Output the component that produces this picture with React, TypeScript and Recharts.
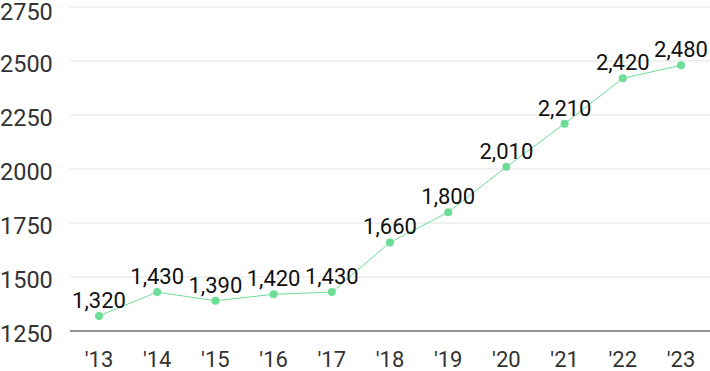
import { LineChart, Line, XAxis, YAxis, CartesianGrid, LabelList } from 'recharts';

const years = ["'13", "'14", "'15", "'16", "'17", "'18", "'19", "'20", "'21", "'22", "'23"];
const values = [1320, 1430, 1390, 1420, 1430, 1660, 1800, 2010, 2210, 2420, 2480];
const yTicks = [1250, 1500, 1750, 2000, 2250, 2500, 2750];

const FONT = 'Roboto, sans-serif';

const data = years.map((year, i) => ({ year, value: values[i] }));

function YTick({ y, payload }: any) {
    return (
        <text x={0} y={y} dy={11} textAnchor="start" fill="#333" fontSize={23.5} fontFamily={FONT}>
            {payload.value}
        </text>
    );
}

function XTick({ x, y, payload }: any) {
    return (
        <text x={x} y={y} dy={28} textAnchor="middle" fill="#333" fontSize={22} fontFamily={FONT}>
            {payload.value}
        </text>
    );
}

export default function App() {
    return (
        <div style={{ position: 'absolute', left: 0, top: 0, background: '#fff' }}>
            <LineChart width={710} height={371} data={data} margin={{ top: 7, right: 0, bottom: 0, left: 0 }}>
                <CartesianGrid vertical={false} stroke="#e3e3e3" />
                <XAxis
                    dataKey="year"
                    axisLine={{ stroke: '#333' }}
                    tickLine={false}
                    tick={<XTick />}
                    height={40}
                    interval={0}
                    padding={{ left: 29, right: 29 }}
                />
                <YAxis
                    domain={[1250, 2750]}
                    ticks={yTicks}
                    axisLine={false}
                    tickLine={false}
                    tick={<YTick />}
                    width={70}
                />
                <Line
                    dataKey="value"
                    stroke="#6ddc97"
                    strokeWidth={1}
                    dot={{ r: 4, fill: '#6ddc97', stroke: 'none' }}
                    activeDot={false}
                    isAnimationActive={false}
                >
                    <LabelList
                        dataKey="value"
                        position="top"
                        offset={8}
                        formatter={(v: any) => Number(v).toLocaleString('en-US')}
                        style={{ fill: '#111', fontSize: 22, fontFamily: FONT }}
                    />
                </Line>
            </LineChart>
        </div>
    );
}
